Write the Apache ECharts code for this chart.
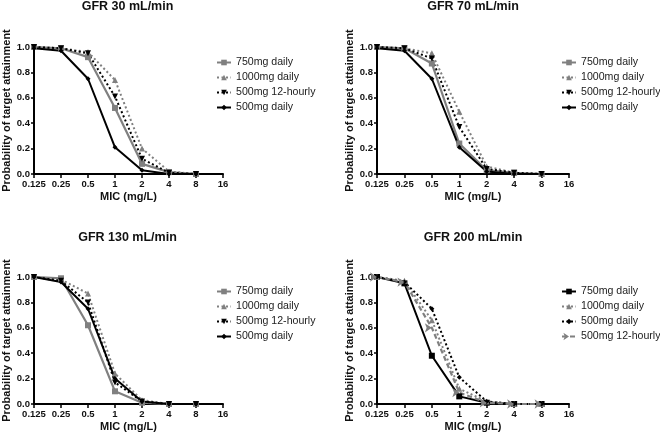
<!DOCTYPE html>
<html>
<head>
<meta charset="utf-8">
<script src="https://cdn.jsdelivr.net/npm/echarts@6/dist/echarts.min.js"></script>
<style>
html,body{margin:0;padding:0;background:#fff;}
#c{width:660px;height:434px;}
</style>
</head>
<body>
<div id="c"></div>
<script>
// ---- data ----
const micLabels = ['0.125', '0.25', '0.5', '1', '2', '4', '8', '16'];
const panelTitles = ['GFR 30 mL/min', 'GFR 70 mL/min', 'GFR 130 mL/min', 'GFR 200 mL/min'];

// GFR 30
const gfr30_750daily   = [1.00, 0.99, 0.92, 0.52, 0.08, 0.015, 0.00];
const gfr30_1000daily  = [1.00, 0.99, 0.96, 0.74, 0.20, 0.02, 0.00];
const gfr30_500q12h    = [1.00, 0.99, 0.95, 0.61, 0.12, 0.01, 0.00];
const gfr30_500daily   = [0.99, 0.97, 0.75, 0.21, 0.03, 0.00, 0.00];
// GFR 70
const gfr70_750daily   = [1.00, 0.99, 0.87, 0.24, 0.03, 0.01, 0.00];
const gfr70_1000daily  = [1.00, 0.99, 0.95, 0.49, 0.06, 0.01, 0.00];
const gfr70_500q12h    = [1.00, 0.99, 0.91, 0.37, 0.04, 0.01, 0.00];
const gfr70_500daily   = [0.99, 0.97, 0.75, 0.21, 0.02, 0.00, 0.00];
// GFR 130
const gfr130_750daily  = [1.00, 0.99, 0.62, 0.10, 0.01, 0.00, 0.00];
const gfr130_1000daily = [1.00, 0.98, 0.87, 0.24, 0.03, 0.00, 0.00];
const gfr130_500q12h   = [1.00, 0.97, 0.80, 0.17, 0.02, 0.00, 0.00];
const gfr130_500daily  = [1.00, 0.96, 0.75, 0.20, 0.02, 0.00, 0.00];
// GFR 200
const gfr200_750daily  = [1.00, 0.95, 0.38, 0.06, 0.01, 0.00, 0.00];
const gfr200_1000daily = [1.00, 0.97, 0.66, 0.12, 0.02, 0.00, 0.00];
const gfr200_500daily  = [1.00, 0.96, 0.75, 0.21, 0.02, 0.00, 0.00];
const gfr200_500q12h   = [1.00, 0.96, 0.60, 0.09, 0.01, 0.00, 0.00];

const names = {
  d750: '750mg daily', d1000: '1000mg daily', q12: '500mg 12-hourly', d500: '500mg daily'
};

// ---- styles ----
const GRAY = '#808080', BLACK = '#000000';
const FONT = 'Liberation Sans, Arial, sans-serif';
const styles = {
  solidGraySquare: {color: GRAY, line: {type: 'solid', width: 2.2}, symbol: 'rect', symbolSize: 6, rotate: 0},
  dotGrayTri:      {color: GRAY, line: {type: [2, 2.5], width: 2}, symbol: 'triangle', symbolSize: 6, rotate: 0},
  dotBlackDown:    {color: BLACK, line: {type: [2, 2.5], width: 2}, symbol: 'triangle', symbolSize: 6, rotate: 180},
  solidBlackDiam:  {color: BLACK, line: {type: 'solid', width: 2}, symbol: 'diamond', symbolSize: 5, rotate: 0},
  solidBlackSquare:{color: BLACK, line: {type: 'solid', width: 2}, symbol: 'rect', symbolSize: 6, rotate: 0},
  dotBlackDiam:    {color: BLACK, line: {type: [2, 2.5], width: 2}, symbol: 'diamond', symbolSize: 5, rotate: 0},
  dashGrayArrow:   {color: GRAY, line: {type: [5, 3], width: 2.2}, symbol: 'arrow', symbolSize: 7, rotate: -90}
};

const panels = [
  {grid: {left: 32, top: 47, width: 191, height: 127}, legend: {left: 216, top: 57},
   series: [[names.d750, gfr30_750daily, 'solidGraySquare'], [names.d1000, gfr30_1000daily, 'dotGrayTri'],
            [names.q12, gfr30_500q12h, 'dotBlackDown'], [names.d500, gfr30_500daily, 'solidBlackDiam']]},
  {grid: {left: 377, top: 47, width: 192, height: 127}, legend: {left: 561, top: 57},
   series: [[names.d750, gfr70_750daily, 'solidGraySquare'], [names.d1000, gfr70_1000daily, 'dotGrayTri'],
            [names.q12, gfr70_500q12h, 'dotBlackDown'], [names.d500, gfr70_500daily, 'solidBlackDiam']]},
  {grid: {left: 32, top: 277, width: 191, height: 127}, legend: {left: 216, top: 286},
   series: [[names.d750, gfr130_750daily, 'solidGraySquare'], [names.d1000, gfr130_1000daily, 'dotGrayTri'],
            [names.q12, gfr130_500q12h, 'dotBlackDown'], [names.d500, gfr130_500daily, 'solidBlackDiam']]},
  {grid: {left: 377, top: 277, width: 192, height: 127}, legend: {left: 561, top: 286},
   series: [[names.d750, gfr200_750daily, 'solidBlackSquare'], [names.d1000, gfr200_1000daily, 'dotGrayTri'],
            [names.d500, gfr200_500daily, 'dotBlackDiam'], [names.q12, gfr200_500q12h, 'dashGrayArrow']]}
];

const option = {animation: false, backgroundColor: '#fff', title: [], grid: [], xAxis: [], yAxis: [], legend: [], series: []};

panels.forEach((p, i) => {
  const g = p.grid;
  option.grid.push({left: g.left, top: g.top, width: g.width, height: g.height, containLabel: false});
  option.title.push({
    text: panelTitles[i], left: g.left + g.width / 2, top: g.top - 47 + (i >= 2 ? 1 : 0), textAlign: 'center', padding: 0,
    textStyle: {fontFamily: FONT, fontWeight: 'bold', fontSize: 12.5, color: '#111'}
  });
  option.xAxis.push({
    type: 'category', gridIndex: i, data: micLabels, boundaryGap: false,
    name: 'MIC (mg/L)', nameLocation: 'middle', nameGap: 17,
    nameTextStyle: {fontFamily: FONT, fontWeight: 'bold', fontSize: 11, color: '#111'},
    axisLine: {lineStyle: {color: '#000', width: 2}},
    axisTick: {show: true, inside: false, length: 4, lineStyle: {color: '#000', width: 1.5}},
    axisLabel: {interval: 0, margin: 5, fontFamily: FONT, fontWeight: 'bold', fontSize: 9.5, color: '#111'},
    splitLine: {show: false}
  });
  option.yAxis.push({
    type: 'value', gridIndex: i, min: 0, max: 1, interval: 0.2,
    name: 'Probability of target attainment', nameLocation: 'middle', nameGap: 22,
    nameTextStyle: {fontFamily: FONT, fontWeight: 'bold', fontSize: 11, color: '#111'},
    axisLine: {show: true, lineStyle: {color: '#000', width: 2}},
    axisTick: {show: true, length: 3, lineStyle: {color: '#000', width: 1.5}},
    axisLabel: {margin: 4, fontFamily: FONT, fontWeight: 'bold', fontSize: 9.5, color: '#111',
                formatter: v => v.toFixed(1)},
    splitLine: {show: false}
  });
  const legendData = [];
  p.series.forEach(([name, vals, st]) => {
    const s = styles[st];
    const uid = name + '#' + i;   // unique per panel, hidden by legend formatter
    legendData.push(uid);
    option.series.push({
      type: 'line', name: uid, xAxisIndex: i, yAxisIndex: i, data: vals,
      symbol: s.symbol, symbolSize: s.symbolSize, symbolRotate: s.rotate, showAllSymbol: true,
      lineStyle: {color: s.color, type: s.line.type, width: s.line.width},
      itemStyle: {color: s.color, borderWidth: 0},
      emphasis: {disabled: true}
    });
  });
  option.legend.push({
    orient: 'vertical', left: p.legend.left, top: p.legend.top, padding: 0,
    itemWidth: 14, itemHeight: 7, itemGap: 4, data: legendData, selectedMode: false,
    formatter: n => n.split('#')[0],
    textStyle: {fontFamily: FONT, fontSize: 10.6, color: '#222', lineHeight: 11, padding: [0, 0, 0, 0]}
  });
});

const chart = echarts.init(document.getElementById('c'), null, {renderer: 'canvas'});
chart.setOption(option);
</script>
</body>
</html>
